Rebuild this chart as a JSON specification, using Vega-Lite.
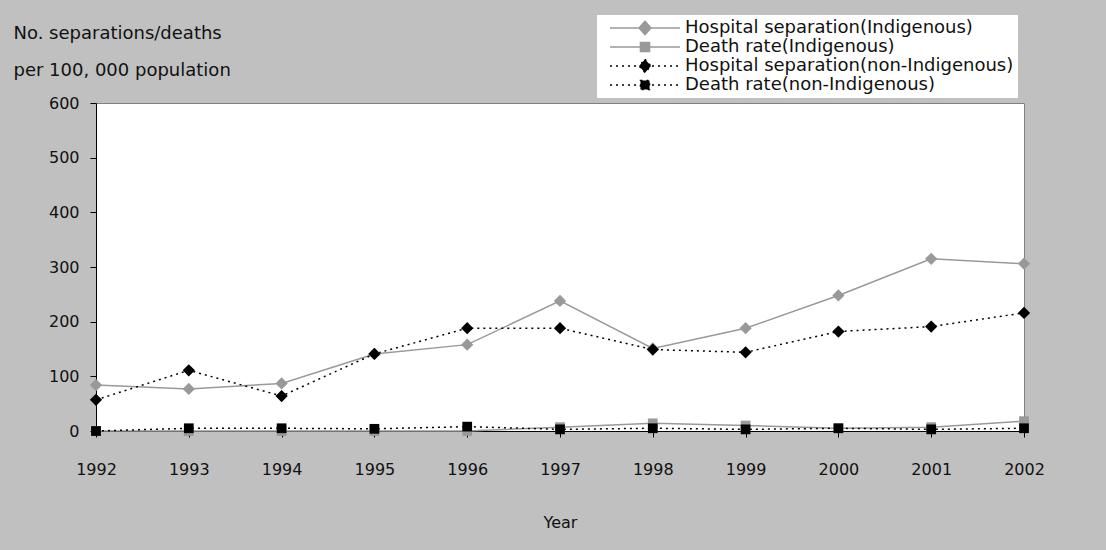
{
  "$schema": "https://vega.github.io/schema/vega-lite/v6.json",
  "autosize": "none",
  "width": 928,
  "height": 328,
  "padding": {"left": 96, "top": 103, "right": 82, "bottom": 119},
  "background": "#c0c0c0",
  "config": {
    "font": "DejaVu Sans",
    "view": {"fill": "white", "stroke": "#808080", "strokeWidth": 1},
    "axis": {"labelFont": "DejaVu Sans", "titleFont": "DejaVu Sans", "labelFontSize": 16, "titleFontSize": 17, "labelColor": "#111", "titleColor": "#111", "titleFontWeight": "normal", "grid": false, "domainColor": "#000", "tickColor": "#000"},
    "legend": {"labelFont": "DejaVu Sans", "labelFontSize": 18, "labelColor": "#111"}
  },
  "data": {
    "values": [
      {"year": 1992, "series": "Hospital separation(Indigenous)", "value": 84},
      {"year": 1993, "series": "Hospital separation(Indigenous)", "value": 77},
      {"year": 1994, "series": "Hospital separation(Indigenous)", "value": 87},
      {"year": 1995, "series": "Hospital separation(Indigenous)", "value": 141},
      {"year": 1996, "series": "Hospital separation(Indigenous)", "value": 158},
      {"year": 1997, "series": "Hospital separation(Indigenous)", "value": 238},
      {"year": 1998, "series": "Hospital separation(Indigenous)", "value": 151},
      {"year": 1999, "series": "Hospital separation(Indigenous)", "value": 188},
      {"year": 2000, "series": "Hospital separation(Indigenous)", "value": 248},
      {"year": 2001, "series": "Hospital separation(Indigenous)", "value": 315},
      {"year": 2002, "series": "Hospital separation(Indigenous)", "value": 306},
      {"year": 1992, "series": "Death rate(Indigenous)", "value": 0},
      {"year": 1993, "series": "Death rate(Indigenous)", "value": 0},
      {"year": 1994, "series": "Death rate(Indigenous)", "value": 0},
      {"year": 1995, "series": "Death rate(Indigenous)", "value": 0},
      {"year": 1996, "series": "Death rate(Indigenous)", "value": 0},
      {"year": 1997, "series": "Death rate(Indigenous)", "value": 7},
      {"year": 1998, "series": "Death rate(Indigenous)", "value": 14},
      {"year": 1999, "series": "Death rate(Indigenous)", "value": 10},
      {"year": 2000, "series": "Death rate(Indigenous)", "value": 5},
      {"year": 2001, "series": "Death rate(Indigenous)", "value": 7},
      {"year": 2002, "series": "Death rate(Indigenous)", "value": 18},
      {"year": 1992, "series": "Hospital separation(non-Indigenous)", "value": 57},
      {"year": 1993, "series": "Hospital separation(non-Indigenous)", "value": 111},
      {"year": 1994, "series": "Hospital separation(non-Indigenous)", "value": 64},
      {"year": 1995, "series": "Hospital separation(non-Indigenous)", "value": 141},
      {"year": 1996, "series": "Hospital separation(non-Indigenous)", "value": 188},
      {"year": 1997, "series": "Hospital separation(non-Indigenous)", "value": 188},
      {"year": 1998, "series": "Hospital separation(non-Indigenous)", "value": 149},
      {"year": 1999, "series": "Hospital separation(non-Indigenous)", "value": 144},
      {"year": 2000, "series": "Hospital separation(non-Indigenous)", "value": 182},
      {"year": 2001, "series": "Hospital separation(non-Indigenous)", "value": 191},
      {"year": 2002, "series": "Hospital separation(non-Indigenous)", "value": 216},
      {"year": 1992, "series": "Death rate(non-Indigenous)", "value": 0},
      {"year": 1993, "series": "Death rate(non-Indigenous)", "value": 5},
      {"year": 1994, "series": "Death rate(non-Indigenous)", "value": 5},
      {"year": 1995, "series": "Death rate(non-Indigenous)", "value": 4},
      {"year": 1996, "series": "Death rate(non-Indigenous)", "value": 8},
      {"year": 1997, "series": "Death rate(non-Indigenous)", "value": 3},
      {"year": 1998, "series": "Death rate(non-Indigenous)", "value": 5},
      {"year": 1999, "series": "Death rate(non-Indigenous)", "value": 3},
      {"year": 2000, "series": "Death rate(non-Indigenous)", "value": 5},
      {"year": 2001, "series": "Death rate(non-Indigenous)", "value": 3},
      {"year": 2002, "series": "Death rate(non-Indigenous)", "value": 5}
    ]
  },
  "encoding": {
    "x": {
      "field": "year", "type": "quantitative",
      "scale": {"domain": [1992, 2002], "nice": false, "zero": false},
      "axis": {"values": [1992,1993,1994,1995,1996,1997,1998,1999,2000,2001,2002], "format": "d", "tickSize": 6, "labelPadding": 24, "title": "Year", "titleFontSize": 16, "titlePadding": 37, "labelFlush": false, "labelOverlap": false}
    },
    "y": {
      "field": "value", "type": "quantitative",
      "scale": {"domain": [0, 600], "nice": false},
      "axis": {"values": [0,100,200,300,400,500,600], "tickSize": 6, "labelPadding": 11,
        "title": ["No. separations/deaths", "per 100, 000 population"],
        "titleFontSize": 18,
        "titleAngle": 0, "titleAlign": "left", "titleBaseline": "top", "titleX": -83, "titleY": -79, "titleLineHeight": 37}
    }
  },
  "layer": [
    {
      "transform": [{"filter": "indexof(datum.series, 'non-') < 0"}],
      "mark": {"type": "line", "strokeWidth": 1.5},
      "encoding": {
        "color": {
          "field": "series", "type": "nominal",
          "scale": {"domain": ["Hospital separation(Indigenous)", "Death rate(Indigenous)", "Hospital separation(non-Indigenous)", "Death rate(non-Indigenous)"], "range": ["#999999", "#999999", "#000000", "#000000"]},
          "legend": {
            "title": null, "orient": "none", "legendX": 501, "legendY": -88,
            "fillColor": "white", "padding": 4, "rowPadding": 1,
            "symbolSize": 4900, "symbolStrokeWidth": 1.5, "clipHeight": 18,
            "symbolOffset": 8, "labelOffset": 4, "labelLimit": 400,
            "encode": {
              "symbols": {
                "update": {
                  "shape": {"signal": "indexof(datum.value, 'Hospital') === 0 ? 'M-1,0H1M0,-0.19L0.17,0L0,0.19L-0.17,0Z' : 'M-1,0H1M-0.13,-0.13H0.13V0.13H-0.13Z'"},
                  "strokeDash": {"signal": "indexof(datum.value, 'non-') >= 0 ? [2, 4] : [1, 0]"},
                  "fill": {"signal": "indexof(datum.value, 'non-') >= 0 ? '#000000' : '#999999'"},
                  "stroke": {"signal": "indexof(datum.value, 'non-') >= 0 ? '#000000' : '#999999'"},
                  "size": {"value": 4900},
                  "strokeWidth": {"value": 1.5},
                  "opacity": {"value": 1}
                }
              }
            }
          }
        }
      }
    },
    {
      "transform": [{"filter": "indexof(datum.series, 'non-') >= 0"}],
      "mark": {"type": "line", "strokeWidth": 1.5, "strokeDash": [2, 4]},
      "encoding": {
        "color": {"field": "series", "type": "nominal"}
      }
    },
    {
      "transform": [{"filter": "datum.series === 'Hospital separation(Indigenous)'"}],
      "mark": {"type": "point", "filled": true, "opacity": 1, "size": 150, "shape": "diamond", "color": "#999999"}
    },
    {
      "transform": [{"filter": "datum.series === 'Death rate(Indigenous)'"}],
      "mark": {"type": "point", "filled": true, "opacity": 1, "size": 95, "shape": "square", "color": "#999999"}
    },
    {
      "transform": [{"filter": "datum.series === 'Hospital separation(non-Indigenous)'"}],
      "mark": {"type": "point", "filled": true, "opacity": 1, "size": 150, "shape": "diamond", "color": "#000000"}
    },
    {
      "transform": [{"filter": "datum.series === 'Death rate(non-Indigenous)'"}],
      "mark": {"type": "point", "filled": true, "opacity": 1, "size": 95, "shape": "square", "color": "#000000"}
    }
  ]
}
